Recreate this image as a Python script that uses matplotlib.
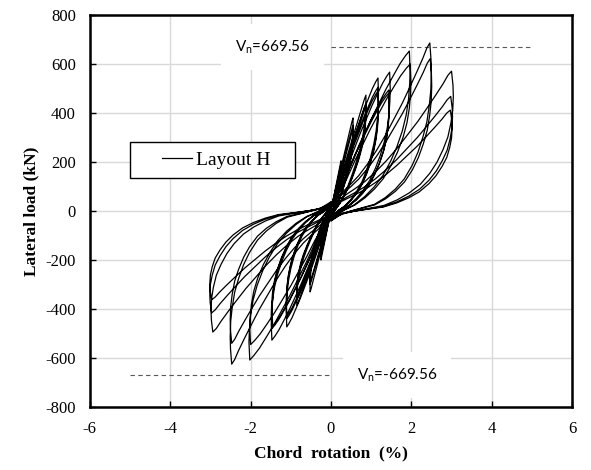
import numpy as np
import matplotlib.pyplot as plt
from matplotlib.patches import Rectangle

plt.rcParams['axes.unicode_minus'] = False

# peak of every cycle (chord rotation %, lateral load kN)
push_drift = [0.25, 0.25, 0.25, 0.55, 0.55, 0.55, 0.87, 0.87, 0.87, 1.17, 1.17, 1.17,
              1.46, 1.44, 1.43, 1.95, 1.97, 2.46, 2.47, 3.00, 2.98, 2.97]
push_load = [205, 190, 182, 380, 350, 335, 473, 440, 425, 543, 505, 490,
             567, 494, 480, 653, 600, 686, 622, 571, 468, 412]
pull_drift = [-0.25, -0.25, -0.25, -0.52, -0.52, -0.52, -0.85, -0.85, -0.85, -1.10, -1.10, -1.10,
              -1.47, -1.47, -1.45, -2.02, -2.00, -2.47, -2.47, -2.94, -2.97, -2.97]
pull_load = [-200, -185, -178, -330, -300, -290, -384, -360, -350, -473, -440, -430,
             -527, -480, -470, -608, -545, -625, -540, -494, -416, -362]
stage = [0] * 9 + [1] * 8 + [2] * 5

# loop shape of each stage, as fractions of the cycle peak (drift, load)
load_u = [[0, .1, .2, .3, .4, .5, .6, .7, .8, .88, .95, 1.0],
          [0, .05, .1, .2, .3, .4, .5, .6, .7, .8, .88, .95, 1.0],
          [0, .04, .08, .13, .2, .28, .37, .46, .55, .64, .72, .8, .87, .93, .97, 1.0]]
load_v = [[.03, .12, .21, .31, .41, .51, .61, .71, .81, .89, .96, 1.0],
          [.04, .08, .12, .22, .34, .45, .56, .66, .76, .85, .92, .97, 1.0],
          [.05, .07, .09, .12, .16, .21, .28, .36, .45, .55, .64, .74, .83, .91, .97, 1.0]]
unload_u = [[1.0, 1.0, .98, .94, .88, .8, .7, .6, .49, .37, .25, .12, 0],
            [1.0, 1.01, 1.005, .99, .96, .91, .84, .76, .66, .55, .43, .3, .18, .08, 0],
            [1.0, 1.012, 1.015, 1.01, .995, .97, .93, .88, .82, .74, .65, .55, .44, .32, .2, .1, 0]]
unload_v = [[1.0, .9, .8, .7, .6, .5, .4, .31, .22, .14, .07, .01, -.05],
            [1.0, .88, .8, .7, .6, .5, .4, .31, .22, .15, .09, .04, .01, -.02, -.06],
            [1.0, .9, .82, .72, .63, .53, .44, .35, .27, .19, .13, .08, .04, .02, .0, -.02, -.06]]

vn = 669.56

xs, ys = [], []
for i in range(len(push_drift)):
    s = stage[i]
    for d, p in [(push_drift[i], push_load[i]), (pull_drift[i], pull_load[i])]:
        xs += [u * d for u in load_u[s]] + [u * d for u in unload_u[s]]
        ys += [v * p for v in load_v[s]] + [v * p for v in unload_v[s]]

fig, ax = plt.subplots(figsize=(5.91, 4.70), dpi=100)
fig.subplots_adjust(left=0.152, right=0.968, top=0.968, bottom=0.134)

ax.plot(xs, ys, color='black', lw=0.9, label='Layout H', zorder=3)

ax.hlines([vn], 0, 5, colors='#595959', linestyles=(0, (4, 3)), lw=0.8, zorder=2)
ax.hlines([-vn], -5, 0, colors='#595959', linestyles=(0, (4, 3)), lw=0.8, zorder=2)
box = dict(facecolor='white', edgecolor='none', boxstyle='square,pad=0.9')
ax.text(-2.39, vn, r'V$_\mathregular{n}$=669.56', ha='left', va='center',
        fontfamily='Lato', fontsize=11, bbox=box, zorder=4)
ax.text(0.64, -vn, r'V$_\mathregular{n}$=-669.56', ha='left', va='center',
        fontfamily='Lato', fontsize=11, bbox=box, zorder=4)

ax.set_xlim(-6, 6)
ax.set_ylim(-800, 800)
ax.set_xticks(np.arange(-6, 7, 2))
ax.set_yticks(np.arange(-800, 801, 200))
ax.grid(True, color='#d9d9d9', lw=1.0, zorder=0)
ax.set_axisbelow(True)
ax.tick_params(direction='in', length=4, width=1, pad=10, labelsize=12)
for lab in ax.get_xticklabels() + ax.get_yticklabels():
    lab.set_fontfamily('Liberation Serif')
for sp in ax.spines.values():
    sp.set_linewidth(1.8)

ax.set_xlabel('Chord  rotation  (%)', fontfamily='Liberation Serif', fontweight='bold', fontsize=12.5, labelpad=6)
ax.set_ylabel('Lateral load (kN)', fontfamily='Liberation Serif', fontweight='bold', fontsize=12.5, labelpad=4)

ax.add_patch(Rectangle((0.083, 0.584), 0.342, 0.092, transform=ax.transAxes,
                       facecolor='white', edgecolor='black', lw=1.0, zorder=4))
ax.legend(loc='center left', bbox_to_anchor=(0.149, 0.630), frameon=False,
          borderpad=0, borderaxespad=0, handlelength=1.55, handletextpad=0.2,
          prop={'family': 'Liberation Serif', 'size': 14}).set_zorder(5)

fig.savefig('out.png', dpi=100)
